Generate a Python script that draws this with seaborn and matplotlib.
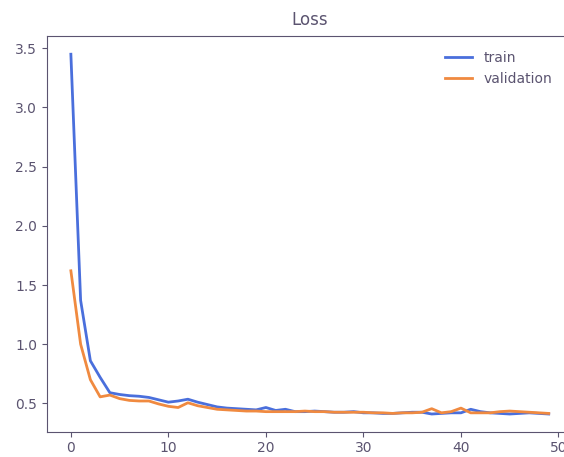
import matplotlib
matplotlib.use("Agg")
import matplotlib.pyplot as plt
import seaborn as sns
import pandas as pd

epochs = list(range(50))
train = [3.45, 1.37, 0.86, 0.72, 0.59, 0.575, 0.565, 0.56, 0.55, 0.53,
         0.51, 0.52, 0.535, 0.51, 0.49, 0.47, 0.46, 0.455, 0.45, 0.445,
         0.465, 0.44, 0.45, 0.43, 0.43, 0.435, 0.43, 0.425, 0.425, 0.43,
         0.42, 0.42, 0.415, 0.415, 0.42, 0.425, 0.425, 0.41, 0.415, 0.42,
         0.42, 0.45, 0.43, 0.42, 0.415, 0.41, 0.415, 0.42, 0.415, 0.41]
validation = [1.62, 1.0, 0.70, 0.555, 0.57, 0.54, 0.525, 0.52, 0.52, 0.495,
              0.475, 0.465, 0.505, 0.48, 0.465, 0.45, 0.445, 0.44, 0.435, 0.435,
              0.43, 0.43, 0.43, 0.43, 0.435, 0.43, 0.43, 0.425, 0.425, 0.425,
              0.425, 0.42, 0.42, 0.415, 0.42, 0.42, 0.425, 0.455, 0.42, 0.43,
              0.46, 0.42, 0.42, 0.42, 0.43, 0.435, 0.43, 0.425, 0.42, 0.415]
series_names = ["train", "validation"]

df = pd.DataFrame({
    "epoch": epochs * 2,
    "loss": train + validation,
    "series": [series_names[0]] * len(train) + [series_names[1]] * len(validation),
})

fg = "#5b5470"
plt.rcParams.update({
    "font.family": ["DejaVu Sans"],
    "font.size": 10,
    "axes.edgecolor": fg,
    "axes.labelcolor": fg,
    "xtick.color": fg,
    "ytick.color": fg,
    "text.color": fg,
    "xtick.major.pad": 2.8,
})

fig = plt.figure(figsize=(5.64, 4.57), dpi=100)
ax = fig.add_axes([0.0833, 0.0547, 0.932, 0.866])
sns.lineplot(data=df, x="epoch", y="loss", hue="series",
             palette=["#4a6fdc", "#f08a40"], linewidth=2.0, ax=ax)
ax.set_title("Loss", fontsize=12, color=fg, pad=8)
ax.set_xlabel("")
ax.set_ylabel("")
ax.set_xticks([0, 10, 20, 30, 40, 50])
ax.set_yticks([0.5, 1.0, 1.5, 2.0, 2.5, 3.0, 3.5])
ax.legend(frameon=False, loc="upper right", bbox_to_anchor=(0.985, 0.995), fontsize=10)
fig.savefig("out.png", dpi=100)
